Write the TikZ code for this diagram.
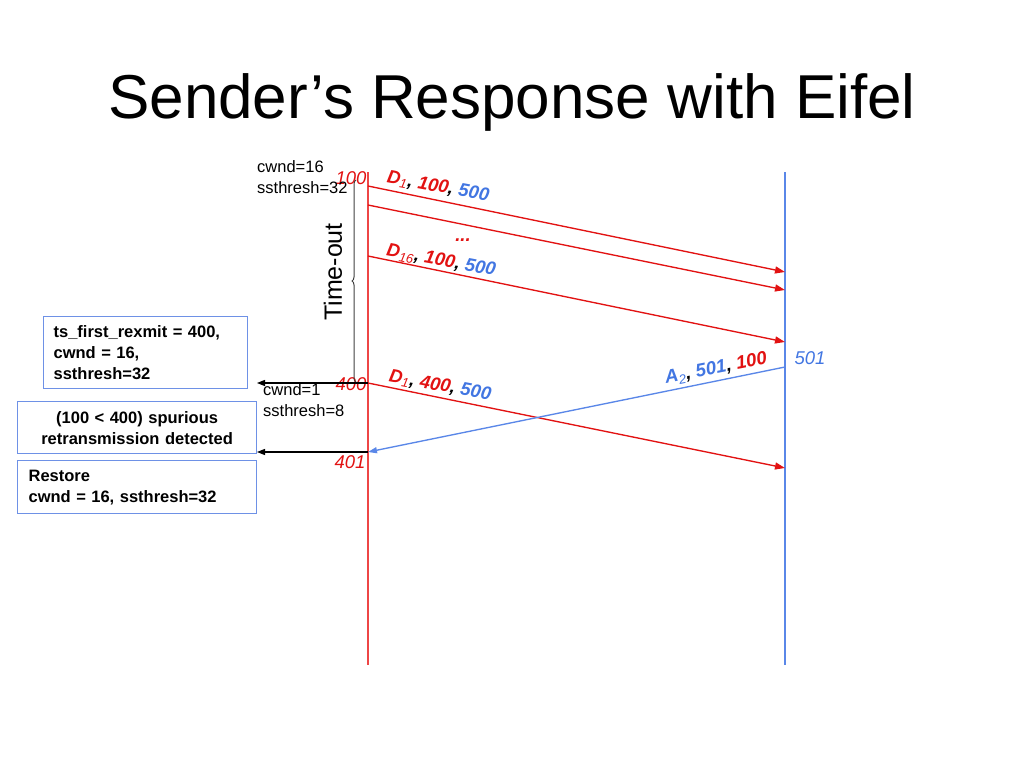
\documentclass[tikz,border=0pt]{standalone}
\usepackage{fontspec}
\setmainfont{Liberation Sans}
\usetikzlibrary{decorations.pathreplacing,arrows.meta}
\definecolor{myred}{RGB}{226,18,18}
\definecolor{myblue}{RGB}{66,118,226}
\definecolor{lineblue}{RGB}{90,135,232}
\definecolor{boxblue}{RGB}{110,145,230}
\definecolor{linered}{RGB}{238,70,70}
\begin{document}
\begin{tikzpicture}[x=1pt,y=-1pt,
  redarrow/.style={draw=myred,line width=1.35pt,-{Triangle[length=10pt,width=7pt]}},
  bluearrow/.style={draw=lineblue,line width=1.35pt,-{Triangle[length=9pt,width=6pt]}},
  blackarrow/.style={draw=black,line width=1.2pt,-{Triangle[length=8pt,width=6pt]}},
  box/.style={draw=boxblue,line width=1.2pt,anchor=north west,inner ysep=2pt,font=\fontsize{16.5}{21}\selectfont\bfseries},
  seqlabel/.style={font=\fontsize{18.5}{22}\selectfont\bfseries\itshape,inner sep=0pt},
  stamp/.style={font=\fontsize{18.5}{22}\selectfont\itshape,inner sep=0pt},
  note/.style={font=\fontsize{16.5}{21}\selectfont,align=left,anchor=north west,inner sep=0pt}]
\useasboundingbox (0,0) rectangle (1024,768);

\node[anchor=base,inner sep=0pt] (title) at (512,118) {\fontsize{62}{70}\selectfont Sender’s Response with Eifel};

% time lines
\coordinate (Ltop) at (368,172);
\coordinate (Lbot) at (368,665);
\coordinate (Rtop) at (785,172);
\coordinate (Rbot) at (785,665);
\draw[linered,line width=1.3pt] (Ltop) -- (Lbot);
\draw[lineblue,line width=1.3pt] (Rtop) -- (Rbot);

% arrow end points
\coordinate (s1) at (368,186);  \coordinate (e1) at (785,272);
\coordinate (s2) at (368,205);  \coordinate (e2) at (785,290);
\coordinate (s3) at (368,256);  \coordinate (e3) at (785,342);
\coordinate (s4) at (368,383);  \coordinate (e4) at (785,468);
\coordinate (a0) at (785,367);  \coordinate (a1) at (368,452);

\draw[redarrow] (s1) -- (e1);
\draw[redarrow] (s2) -- (e2);
\draw[redarrow] (s3) -- (e3);
\draw[redarrow] (s4) -- (e4);
\draw[bluearrow] (a0) -- (a1);

% labels on arrows
\node[seqlabel,rotate=-10.5] (l1) at (438,187) {\textcolor{myred}{D\textsubscript{\textmd{1}}}, \textcolor{myred}{100}, \textcolor{myblue}{500}};
\node[seqlabel,rotate=-10.5] (l2) at (441,261) {\textcolor{myred}{D\textsubscript{\textmd{16}}}, \textcolor{myred}{100}, \textcolor{myblue}{500}};
\node[seqlabel,text=myred] (dots) at (463,240) {...};
\node[seqlabel,rotate=-10.5] (l3) at (440,386) {\textcolor{myred}{D\textsubscript{\textmd{1}}}, \textcolor{myred}{400}, \textcolor{myblue}{500}};
\node[seqlabel,rotate=11] (l4) at (716,369) {\textcolor{myblue}{A\textsubscript{\textmd{2}}}, \textcolor{myblue}{501}, \textcolor{myred}{100}};

% time stamps
\node[stamp,text=myred] (t100) at (351,178) {100};
\node[stamp,text=myred] (t400) at (351,384) {400};
\node[stamp,text=myred] (t401) at (350,462) {401};
\node[stamp,text=myblue] (t501) at (810,358) {501};

% notes
\node[note] (n1) at (257,160) {cwnd=16\\ssthresh=32};
\node[note] (n2) at (263,383) {cwnd=1\\ssthresh=8};

% brace and timeout
\draw[black!75,line width=1pt,decorate,decoration={brace,amplitude=4pt}] (356,382) -- (356,180);
\node[rotate=90,font=\fontsize{25}{28}\selectfont] (to) at (333,272) {Time-out};

% boxes
\node[box,minimum width=204pt,minimum height=72pt,text width=184pt,inner xsep=10pt,align=left] (b1) at (43,316) {ts\_first\_rexmit = 400,\\cwnd = 16,\\ssthresh=32};
\node[box,minimum width=239pt,minimum height=52pt,text width=229pt,inner xsep=5pt,align=center] (b2) at (17,401) {(100 < 400) spurious\\retransmission detected};
\node[box,minimum width=239pt,minimum height=53pt,text width=217pt,inner xsep=11pt,align=left] (b3) at (17,460) {Restore\\cwnd = 16, ssthresh=32};

% black arrows to boxes
\coordinate (k1) at (257,383);
\coordinate (k2) at (257,452);
\draw[blackarrow] (s4) -- (k1);
\draw[blackarrow] (a1) -- (k2);
\end{tikzpicture}
\end{document}
